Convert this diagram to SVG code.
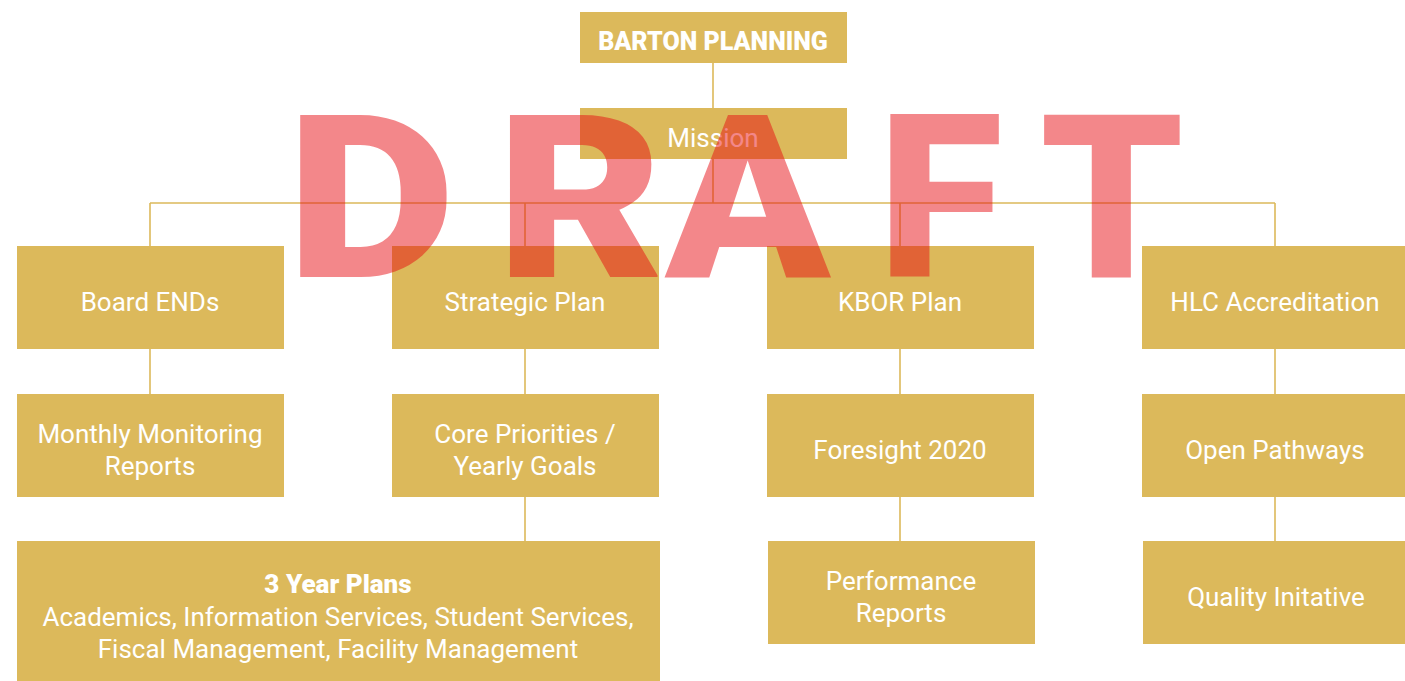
<svg xmlns="http://www.w3.org/2000/svg" width="1405" height="681" viewBox="0 0 1405 681">
<style>
.box{fill:#DCB95B}
.lbl{font-family:Roboto,"Liberation Sans",sans-serif;font-size:26px;fill:#FFFFFF;text-anchor:middle}
.bold{font-weight:900}
.conn{stroke:#DCB95B;stroke-width:1.6;fill:none}
.draft{font-family:Roboto,"Liberation Sans",sans-serif;font-weight:900;font-size:228px;fill:#E60A10;fill-opacity:0.49}
</style>
<rect width="1405" height="681" fill="#FFFFFF"/>
<g id="connectors">
<path class="conn" d="M713 63V108M713 159V203M150 203H1275M150 203V246M525 203V246M900 203V246M1275 203V246M150 349V394M525 349V394M900 349V394M1275 349V394M525 497V541M900 497V541M1275 497V541"/>
</g>
<g id="n-barton"><rect class="box" x="580" y="12" width="267" height="51"/><text class="lbl bold" x="713" y="50" style="font-size:25px">BARTON PLANNING</text></g>
<g id="n-mission"><rect class="box" x="580" y="108" width="267" height="51"/><text class="lbl" x="713" y="147">Mission</text></g>
<g id="n-board"><rect class="box" x="17" y="246" width="267" height="103"/><text class="lbl" x="150" y="311">Board ENDs</text></g>
<g id="n-strategic"><rect class="box" x="392" y="246" width="267" height="103"/><text class="lbl" x="525" y="311">Strategic Plan</text></g>
<g id="n-kbor"><rect class="box" x="767" y="246" width="267" height="103"/><text class="lbl" x="900" y="311">KBOR Plan</text></g>
<g id="n-hlc"><rect class="box" x="1142" y="246" width="267" height="103"/><text class="lbl" x="1275" y="311">HLC Accreditation</text></g>
<g id="n-monthly"><rect class="box" x="17" y="394" width="267" height="103"/><text class="lbl" x="150" y="443">Monthly Monitoring</text><text class="lbl" x="150" y="475">Reports</text></g>
<g id="n-core"><rect class="box" x="392" y="394" width="267" height="103"/><text class="lbl" x="525" y="443">Core Priorities /</text><text class="lbl" x="525" y="475">Yearly Goals</text></g>
<g id="n-foresight"><rect class="box" x="767" y="394" width="267" height="103"/><text class="lbl" x="900" y="459">Foresight 2020</text></g>
<g id="n-open"><rect class="box" x="1142" y="394" width="267" height="103"/><text class="lbl" x="1275" y="459">Open Pathways</text></g>
<g id="n-3year"><rect class="box" x="17" y="541" width="643" height="140"/><text class="lbl bold" x="338" y="593">3 Year Plans</text><text class="lbl" x="338" y="626">Academics, Information Services, Student Services,</text><text class="lbl" x="338" y="658">Fiscal Management, Facility Management</text></g>
<g id="n-performance"><rect class="box" x="768" y="541" width="267" height="103"/><text class="lbl" x="901" y="590">Performance</text><text class="lbl" x="901" y="622">Reports</text></g>
<g id="n-quality"><rect class="box" x="1143" y="541" width="267" height="103"/><text class="lbl" x="1276" y="606">Quality Initative</text></g>
<g id="watermark">
<text class="draft" transform="translate(286,277) scale(1.15,1)">D</text>
<text class="draft" transform="translate(496,277) scale(1.13,1)">R</text>
<text class="draft" transform="translate(665,277) scale(1.065,1)">A</text>
<text class="draft" transform="translate(878,277)">F</text>
<text class="draft" transform="translate(1040,277)">T</text>
</g>
</svg>
